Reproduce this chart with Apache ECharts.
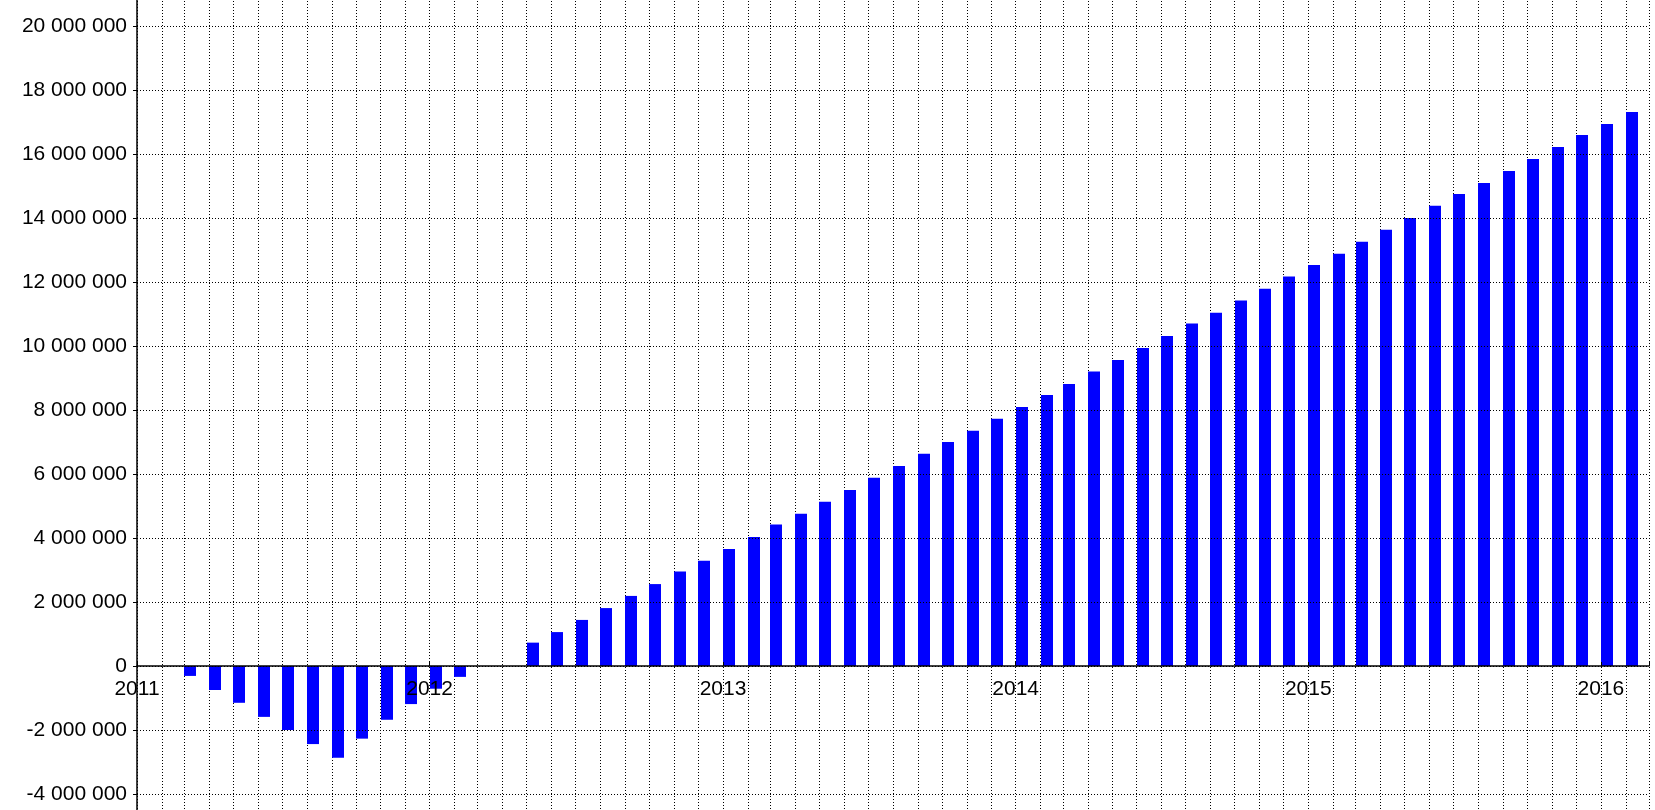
<!DOCTYPE html>
<html>
<head>
<meta charset="utf-8">
<script src="https://cdn.jsdelivr.net/npm/echarts@6/dist/echarts.min.js"></script>
<style>
html,body{margin:0;padding:0;background:#fff;}
#chart{width:1655px;height:810px;}
</style>
</head>
<body>
<div id="chart"></div>
<script>
// Months (start of each month) and cumulative values
const months = [
  '2011-03','2011-04','2011-05','2011-06','2011-07','2011-08','2011-09','2011-10','2011-11','2011-12',
  '2012-01','2012-02','2012-03','2012-04','2012-05','2012-06','2012-07','2012-08','2012-09','2012-10','2012-11','2012-12',
  '2013-01','2013-02','2013-03','2013-04','2013-05','2013-06','2013-07','2013-08','2013-09','2013-10','2013-11','2013-12',
  '2014-01','2014-02','2014-03','2014-04','2014-05','2014-06','2014-07','2014-08','2014-09','2014-10','2014-11','2014-12',
  '2015-01','2015-02','2015-03','2015-04','2015-05','2015-06','2015-07','2015-08','2015-09','2015-10','2015-11','2015-12',
  '2016-01','2016-02'
];
const values = [
  -310000,-750000,-1150000,-1590000,-2000000,-2440000,-2870000,-2270000,-1680000,-1190000,
  -710000,-340000,null,null,730000,1060000,1440000,1810000,2190000,2560000,2950000,3290000,
  3660000,4030000,4420000,4760000,5130000,5500000,5880000,6250000,6630000,7000000,7350000,7730000,
  8090000,8470000,8810000,9200000,9560000,9940000,10310000,10700000,11040000,11420000,11790000,12170000,
  12530000,12880000,13260000,13630000,14000000,14380000,14750000,15090000,15470000,15840000,16220000,16590000,
  16940000,17310000
];
const xStart = '2011-01-01';
const xEnd = '2016-03-01';
const yTicks = { min: -6000000, max: 22000000, step: 2000000 };

const FONT = "'Liberation Sans', Arial, sans-serif";
function fmtNum(v) {
  const s = String(Math.abs(v)).replace(/\B(?=(\d{3})+(?!\d))/g, ' ');
  return (v < 0 ? '-' : '') + s;
}

const data = months.map((m, i) => [m, values[i]]);

const chart = echarts.init(document.getElementById('chart'), null, { renderer: 'canvas' });
chart.setOption({
  animation: false,
  backgroundColor: '#ffffff',
  grid: { left: 137, right: 6, top: -38, bottom: -48, outerBoundsMode: 'none', containLabel: false },
  xAxis: [
    {
      type: 'time',
      min: xStart,
      max: xEnd,
      splitNumber: 5,
      position: 'bottom',
      offset: -192,
      axisLine: { show: true, onZero: false, lineStyle: { color: '#000', width: 1.5 } },
      axisTick: { show: true, inside: true, length: 4, lineStyle: { color: '#000' } },
      axisLabel: {
        show: true,
        color: '#000',
        fontSize: 21,
        fontFamily: FONT,
        margin: 13,
        showMinLabel: true,
        showMaxLabel: true,
        hideOverlap: false,
        formatter: function (val) {
          const d = new Date(val);
          return (d.getMonth() === 0 && d.getDate() === 1) ? String(d.getFullYear()) : '';
        }
      },
      splitLine: { show: false },
      z: 5
    },
    {
      type: 'time',
      min: xStart,
      max: xEnd,
      splitNumber: 47,
      position: 'bottom',
      axisLine: { show: false, onZero: false },
      axisTick: { show: false },
      axisLabel: { show: false },
      splitLine: { show: true, lineStyle: { color: '#000', width: 1, type: [1, 2] } }
    }
  ],
  yAxis: {
    type: 'value',
    min: yTicks.min,
    max: yTicks.max,
    interval: yTicks.step,
    axisLine: { show: true, lineStyle: { color: '#000', width: 1.5 } },
    axisTick: { show: true, length: 4, lineStyle: { color: '#000' } },
    axisLabel: { color: '#000', fontSize: 21, fontFamily: FONT, margin: 10, formatter: fmtNum },
    splitLine: { show: true, lineStyle: { color: '#000', width: 1, type: [1, 2] } },
    z: 5
  },
  series: [{
    type: 'custom',
    xAxisIndex: 0,
    yAxisIndex: 0,
    encode: { x: 0, y: 1 },
    data: data,
    z: 3,
    renderItem: function (params, api) {
      const v = api.value(1);
      if (v == null || isNaN(v)) return null;
      const t = api.value(0);
      const p0 = api.coord([t, 0]);
      const p1 = api.coord([t, v]);
      return {
        type: 'rect',
        shape: { x: Math.round(p0[0]), y: Math.min(p0[1], p1[1]), width: 12, height: Math.abs(p1[1] - p0[1]) },
        style: { fill: '#0000ff' }
      };
    }
  }]
});
</script>
</body>
</html>
